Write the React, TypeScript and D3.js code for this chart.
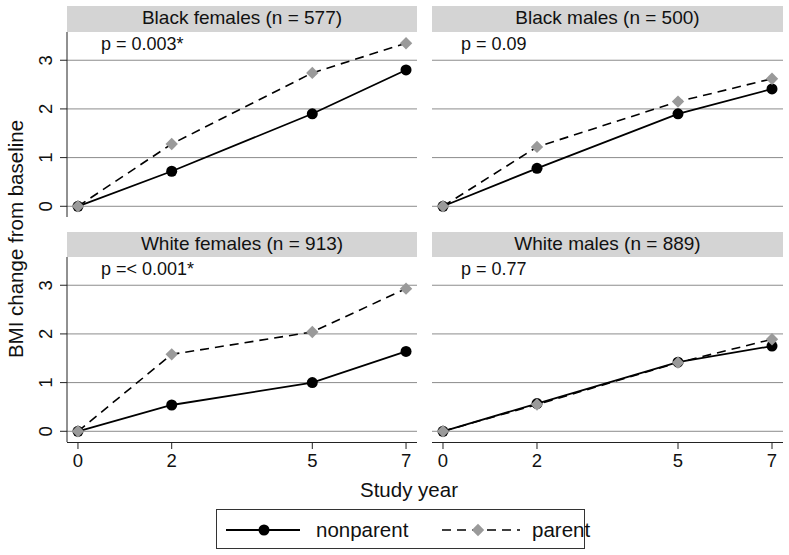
import React from "react";
import * as d3 from "d3";

const years = [0, 2, 5, 7];
const yTicks = [0, 1, 2, 3];
const panelTitles = ["Black females (n = 577)", "Black males (n = 500)", "White females (n = 913)", "White males (n = 889)"];
const pLabels = ["p = 0.003*", "p = 0.09", "p =< 0.001*", "p = 0.77"];
const nonparent = [
  [0, 0.72, 1.9, 2.8],
  [0, 0.78, 1.9, 2.41],
  [0, 0.54, 1.0, 1.64],
  [0, 0.57, 1.42, 1.75],
];
const parent = [
  [0, 1.28, 2.74, 3.35],
  [0, 1.22, 2.15, 2.62],
  [0, 1.58, 2.04, 2.93],
  [0, 0.55, 1.41, 1.89],
];
const seriesNames = ["nonparent", "parent"];

const W = 789, H = 555;
const FONT = "Liberation Sans, Arial, sans-serif";
const cols = [[67, 417], [432, 783]];
const rows = [{ head: 6, top: 32, bottom: 217 }, { head: 232, top: 257, bottom: 442 }];
const pOffset = [34, 29];

function Diamond({ x, y, r }: { x: number; y: number; r: number }) {
  return <path d={`M${x},${y - r}L${x + r},${y}L${x},${y + r}L${x - r},${y}Z`} fill="#9a9a9a" />;
}

function Panel({ i }: { i: number }) {
  const c = i % 2, r = Math.floor(i / 2);
  const [x0, x1] = cols[c];
  const row = rows[r];
  const x = d3.scaleLinear().domain([-0.234, 7.234]).range([x0, x1]);
  const y = d3.scaleLinear().domain([-0.22, 3.58]).range([row.bottom, row.top]);
  const line = d3.line<number>().x((_, k) => x(years[k])).y((v) => y(v));
  return (
    <g>
      <rect x={x0} y={row.head} width={x1 - x0} height={row.top - row.head} fill="#d4d4d4" />
      <text x={(x0 + x1) / 2} y={row.head + 18} textAnchor="middle" fontSize={19} fontFamily={FONT} fill="#111">
        {panelTitles[i]}
      </text>
      {yTicks.map((t) => (
        <line key={t} x1={x0} x2={x1} y1={y(t)} y2={y(t)} stroke="#8c8c8c" strokeWidth={1} />
      ))}
      {c === 0 && (
        <g>
          <line x1={x0} x2={x0} y1={row.top} y2={row.bottom} stroke="#222" strokeWidth={1} />
          {yTicks.map((t) => (
            <g key={t}>
              <line x1={x0 - 7} x2={x0} y1={y(t)} y2={y(t)} stroke="#222" strokeWidth={1} />
              <text
                transform={`translate(${x0 - 15},${y(t)}) rotate(-90)`}
                textAnchor="middle"
                fontSize={18.5}
                fontFamily={FONT}
                fill="#111"
              >
                {t}
              </text>
            </g>
          ))}
        </g>
      )}
      {r === 1 && (
        <g>
          <line x1={x0} x2={x1} y1={row.bottom + 0.5} y2={row.bottom + 0.5} stroke="#222" strokeWidth={1} />
          {years.map((t) => (
            <g key={t}>
              <line x1={x(t)} x2={x(t)} y1={row.bottom} y2={row.bottom + 7} stroke="#222" strokeWidth={1} />
              <text x={x(t)} y={row.bottom + 25} textAnchor="middle" fontSize={18.5} fontFamily={FONT} fill="#111">
                {t}
              </text>
            </g>
          ))}
        </g>
      )}
      <text x={x0 + pOffset[c]} y={row.top + 18} fontSize={18} fontFamily={FONT} fill="#111">
        {pLabels[i]}
      </text>
      <path d={line(nonparent[i]) || ""} fill="none" stroke="#000" strokeWidth={1.8} />
      {nonparent[i].map((v, k) => (
        <circle key={k} cx={x(years[k])} cy={y(v)} r={5.5} fill="#000" />
      ))}
      <path d={line(parent[i]) || ""} fill="none" stroke="#000" strokeWidth={1.6} strokeDasharray="9,6" />
      {parent[i].map((v, k) => (
        <Diamond key={k} x={x(years[k])} y={y(v)} r={6.2} />
      ))}
    </g>
  );
}

export default function App() {
  return (
    <svg width={W} height={H} style={{ position: "absolute", left: 0, top: 0, background: "#fff" }}>
      <rect x={0} y={0} width={W} height={H} fill="#fff" />
      {[0, 1, 2, 3].map((i) => (
        <Panel key={i} i={i} />
      ))}
      <text
        transform={`translate(23,239) rotate(-90)`}
        textAnchor="middle"
        fontSize={20.5}
        fontFamily={FONT}
        fill="#111"
      >
        BMI change from baseline
      </text>
      <text x={409} y={497} textAnchor="middle" fontSize={20.5} fontFamily={FONT} fill="#111">
        Study year
      </text>
      <rect x={216.5} y={509.5} width={368} height={39} fill="#fff" stroke="#333" strokeWidth={1} />
      <g>
        <line x1={226} x2={300} y1={530} y2={530} stroke="#000" strokeWidth={1.8} />
        <circle cx={264} cy={530} r={5.5} fill="#000" />
        <text x={316} y={537} fontSize={20.5} fontFamily={FONT} fill="#111">{seriesNames[0]}</text>
        <line x1={442} x2={520} y1={530} y2={530} stroke="#000" strokeWidth={1.6} strokeDasharray="9,6" />
        <Diamond x={478} y={530} r={6.2} />
        <text x={532} y={537} fontSize={20.5} fontFamily={FONT} fill="#111">{seriesNames[1]}</text>
      </g>
    </svg>
  );
}
